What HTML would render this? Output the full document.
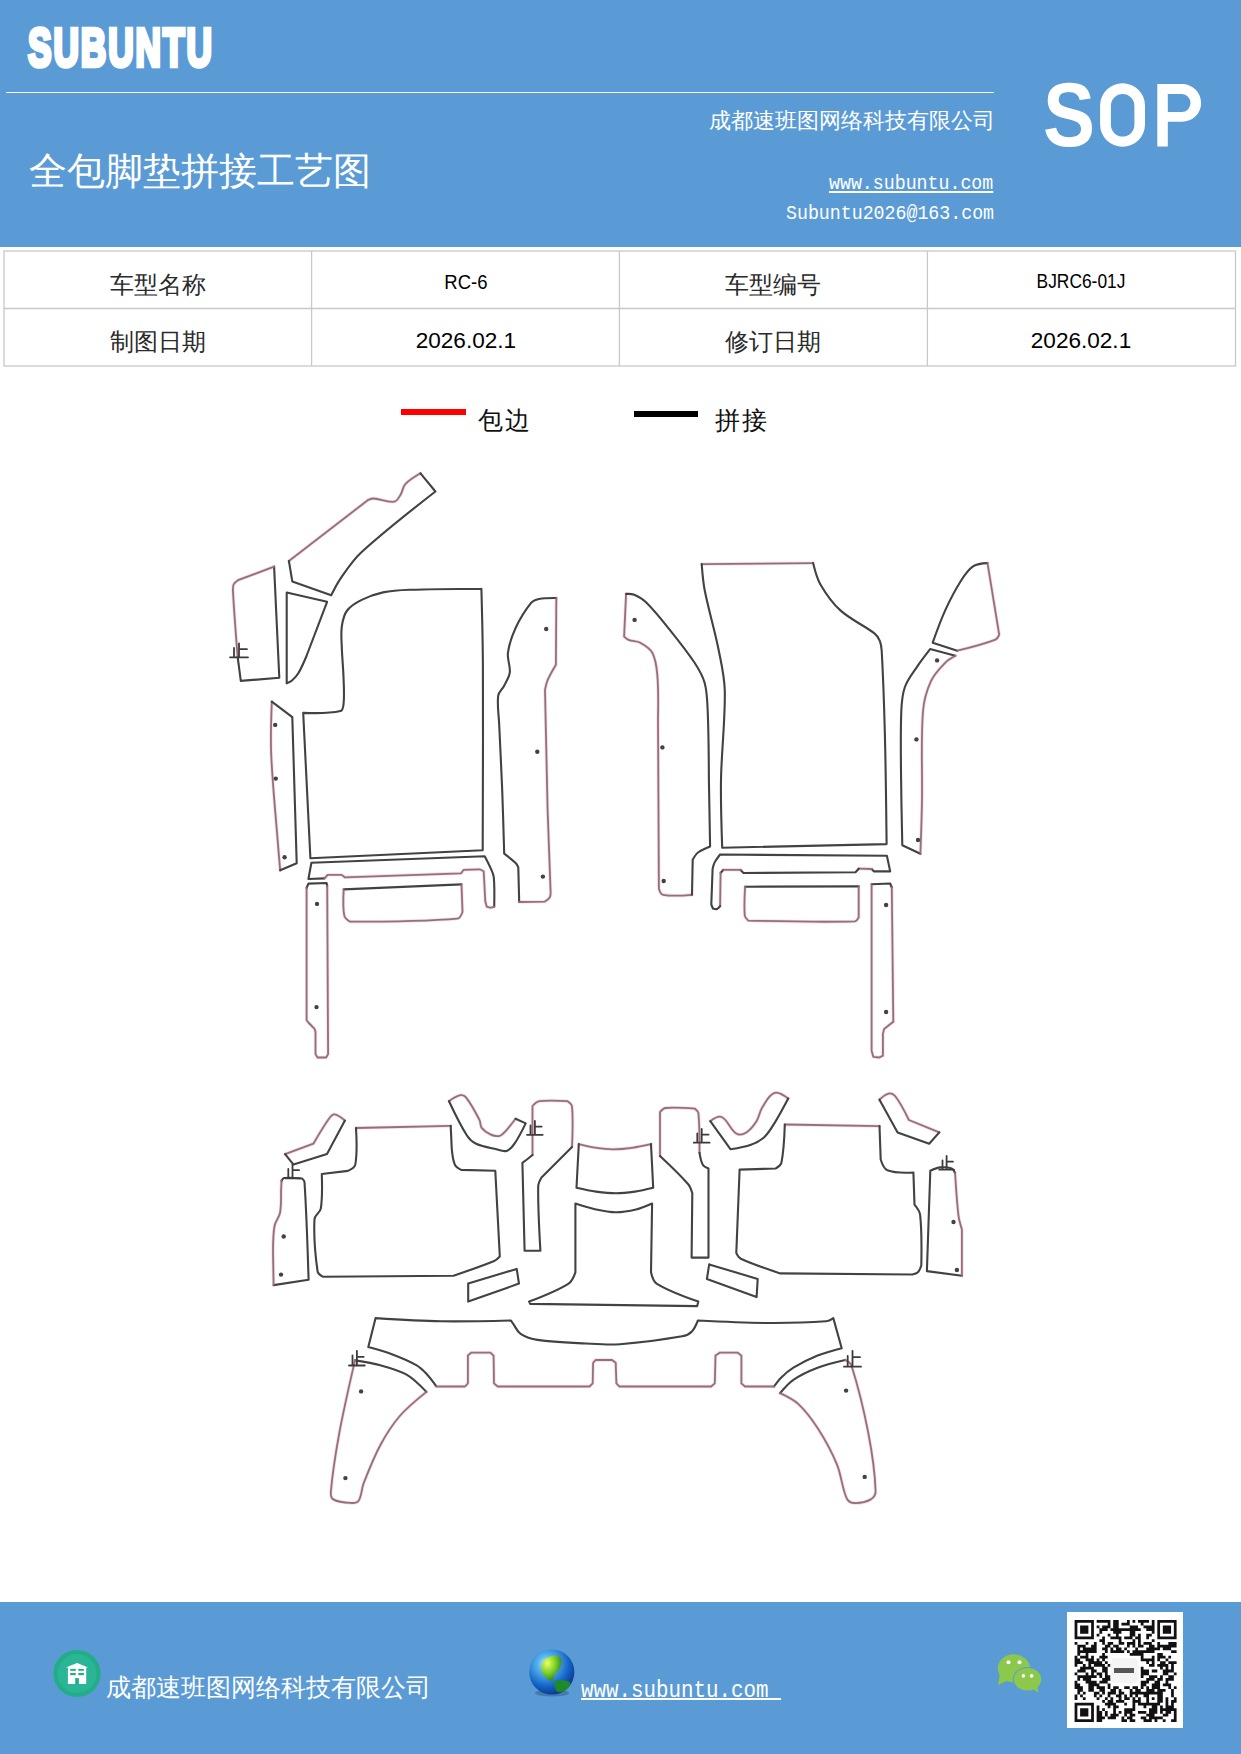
<!DOCTYPE html>
<html><head><meta charset="utf-8">
<style>
html,body{margin:0;padding:0;}
body{width:1241px;height:1754px;position:relative;overflow:hidden;background:#fff;font-family:"Liberation Serif",serif;}
.abs{position:absolute;white-space:nowrap;line-height:1;}
#hdr{position:absolute;left:0;top:0;width:1241px;height:247px;background:#5b9bd5;}
#ftr{position:absolute;left:0;top:1602px;width:1241px;height:152px;background:#5b9bd5;}
.w{color:#fff;}
.mono{font-family:"Liberation Mono",monospace;}
.sans{font-family:"Liberation Sans",sans-serif;}
</style></head><body>
<div id="hdr"></div>
<div class="abs sans w" id="logo" style="left:27.5px;top:19.5px;font-size:54px;font-weight:bold;-webkit-text-stroke:4.5px #fff;letter-spacing:3px;transform-origin:0 0;transform:scaleX(0.652);">SUBUNTU</div>
<div style="position:absolute;left:6px;top:91.7px;width:988px;height:1.7px;background:#fff;"></div>
<div class="abs w" id="title" style="left:29px;top:152px;font-size:38px;">全包脚垫拼接工艺图</div>
<div class="abs w" id="comp" style="left:709px;top:110.5px;font-size:21.6px;">成都速班图网络科技有限公司</div>
<div class="abs w mono" id="url" style="left:829px;top:173px;font-size:21px;text-decoration:underline;text-underline-offset:1.5px;text-decoration-thickness:1.5px;transform-origin:0 0;transform:scaleX(0.869);">www.subuntu.com</div>
<div class="abs w mono" id="mail" style="left:785.5px;top:202.5px;font-size:21px;transform-origin:0 0;transform:scaleX(0.869);">Subuntu2026@163.com</div>
<div class="abs w sans" id="sopS" style="left:1043.2px;top:69.2px;font-size:91px;font-weight:bold;transform-origin:0 0;transform:scaleX(0.857);">S</div>
<svg style="position:absolute;left:0;top:0" width="1241" height="200"><g fill="#fff" fill-rule="evenodd">
<path d="M1100.1 105.6 A22.45 22.3 0 0 1 1145 105.6 V124.5 A22.45 22.3 0 0 1 1100.1 124.5 Z M1110.9 105.8 A11.75 11.8 0 0 1 1134.4 105.8 V124.8 A11.75 11.8 0 0 1 1110.9 124.8 Z"/>
<path d="M1157.3 84 H1182 A19.1 18.9 0 0 1 1182 121.8 H1167.8 V146.5 H1157.3 Z M1167.8 94 H1182 A8.5 9.05 0 0 1 1182 112.1 H1167.8 Z"/>
</g></svg>

<!-- table -->
<svg style="position:absolute;left:0;top:0" width="1241" height="400">
<g stroke="#c8c8c8" stroke-width="1.3" fill="none">
<rect x="4" y="251" width="1231.5" height="115"/>
<line x1="4" y1="308.5" x2="1235.5" y2="308.5"/>
<line x1="311.6" y1="251" x2="311.6" y2="366"/>
<line x1="619.4" y1="251" x2="619.4" y2="366"/>
<line x1="927.4" y1="251" x2="927.4" y2="366"/>
</g>
</svg>
<div class="abs" id="t1" style="left:4px;width:307.6px;text-align:center;top:273px;font-size:24px;color:#2a2a2a;">车型名称</div>
<div class="abs sans" id="t2" style="left:311.6px;width:307.8px;text-align:center;top:271.5px;font-size:20.8px;color:#000;transform:scaleX(0.89);">RC-6</div>
<div class="abs" id="t3" style="left:619.4px;width:308px;text-align:center;top:273px;font-size:24px;color:#2a2a2a;">车型编号</div>
<div class="abs sans" id="t4" style="left:927.4px;width:308px;text-align:center;top:271px;font-size:20.8px;color:#000;transform:scaleX(0.835);">BJRC6-01J</div>
<div class="abs" id="t5" style="left:4px;width:307.6px;text-align:center;top:330px;font-size:24px;color:#2a2a2a;">制图日期</div>
<div class="abs sans" id="t6" style="left:311.6px;width:307.8px;text-align:center;top:329.3px;font-size:22.8px;color:#000;transform:scaleX(0.99);">2026.02.1</div>
<div class="abs" id="t7" style="left:619.4px;width:308px;text-align:center;top:330px;font-size:24px;color:#2a2a2a;">修订日期</div>
<div class="abs sans" id="t8" style="left:927.4px;width:308px;text-align:center;top:329.3px;font-size:22.8px;color:#000;transform:scaleX(0.99);">2026.02.1</div>
<!-- legend -->
<div style="position:absolute;left:401.3px;top:409.4px;width:64.4px;height:6px;background:#ff0000;"></div>
<div class="abs" style="left:478px;top:408px;font-size:25px;letter-spacing:1.5px;color:#111;">包边</div>
<div style="position:absolute;left:634px;top:411px;width:64px;height:6px;background:#000;"></div>
<div class="abs" style="left:715px;top:408px;font-size:25px;letter-spacing:1.5px;color:#111;">拼接</div>

<!-- drawing -->
<svg id="draw" style="position:absolute;left:0;top:0" width="1241" height="1600">
<g fill="none" stroke="#f7dce3" stroke-width="3.4" stroke-linejoin="round" stroke-linecap="round">
<path d="M288.9 561.0 L368.3 499.8 C368.3 499.8 371.9 498.4 373.8 498.5 C380.7 499.0 387.4 502.7 394.2 501.7 C397.4 501.2 399.0 497.2 400.7 494.5 C402.7 491.3 402.7 486.9 405.3 484.1 C409.5 479.6 420.5 473.3 420.5 473.3"/>
<path d="M274.1 566.6 L238.0 580.2 C238.0 580.2 234.4 582.6 233.6 584.5 C232.6 586.8 232.9 589.5 233.0 592.0 C234.2 613.5 237.6 656.5 237.6 656.5"/>
<path d="M519.2 902.0 L544.9 901.6 C544.9 901.6 548.7 899.1 549.8 897.2 C550.7 895.8 550.6 892.3 550.6 892.3 L547.6 810.0 L545.0 689.9 C545.0 689.9 546.3 683.3 547.6 680.2 C549.9 674.9 555.9 664.8 555.9 664.8 L556.3 598.0"/>
<path d="M271.8 701.7 C271.8 701.7 270.4 736.9 271.2 754.5 C272.6 785.4 275.8 816.2 278.2 847.1 C278.8 854.8 280.2 870.3 280.2 870.3"/>
<path d="M494.2 906.6 C494.2 906.6 491.9 907.6 490.7 907.6 C489.3 907.6 486.7 906.6 486.7 906.6 L485.3 901.5 L483.7 871.3 L479.7 869.3 L463.5 869.9 L461.1 873.3 L344.7 877.3 L341.7 874.9 L327.6 874.9 L324.5 878.4"/>
<path d="M461.5 884.4 L462.5 912.0 C462.5 912.0 460.2 918.4 457.5 918.6 C421.8 921.7 350.0 921.7 350.0 921.7 C350.0 921.7 344.8 918.3 344.3 915.6 C342.6 907.0 343.7 889.4 343.7 889.4"/>
<path d="M327.2 886.0 L328.1 1054.1 L326.2 1057.5 L317.5 1057.5 L315.5 1054.1 L315.5 1031.8 L314.6 1028.9 L308.8 1023.0 L306.6 1020.2 L306.6 888.0"/>
<path d="M626.1 593.9 L624.1 636.6 C624.1 636.6 627.2 639.5 629.1 640.2 C632.6 641.5 636.9 640.9 640.2 642.7 C644.8 645.2 649.8 648.1 652.3 652.7 C655.9 659.4 656.7 667.3 657.3 674.9 C658.6 689.9 658.0 720.0 658.0 720.0 L658.9 888.8 C658.9 888.8 660.6 894.4 663.0 894.8 C672.5 896.5 692.0 894.8 692.0 894.8"/>
<path d="M701.7 564.1 L813.1 563.1"/>
<path d="M987.5 563.1 L999.2 634.6 C999.2 634.6 997.4 638.9 995.5 639.6 C983.1 644.4 957.3 650.7 957.3 650.7"/>
<path d="M955.3 655.8 C955.3 655.8 948.0 659.9 945.2 662.8 C939.9 668.3 934.3 673.9 931.1 680.9 C926.7 690.4 923.8 700.8 923.0 711.2 C920.7 740.7 922.5 770.4 922.0 800.0 C921.7 817.9 920.4 853.7 920.4 853.7"/>
<path d="M720.6 873.0 L720.1 906.1"/>
<path d="M871.6 869.0 L858.7 868.7"/>
<path d="M740.3 869.8 L723.4 869.8"/>
<path d="M858.7 886.4 L858.7 917.4 C858.7 917.4 856.6 921.3 854.7 921.4 C819.2 922.4 748.3 920.6 748.3 920.6 C748.3 920.6 745.0 917.7 744.8 915.7 C743.9 906.1 745.1 886.7 745.1 886.7"/>
<path d="M891.8 887.5 L893.3 1021.7"/>
<path d="M893.3 1021.7 L884.1 1029.0 L882.9 1033.8 L882.9 1055.6 L879.3 1057.5 L873.3 1056.8 L871.6 1050.7 L871.6 884.3"/>
<path d="M285.1 1154.1 L313.4 1143.7 C313.4 1143.7 323.3 1126.6 329.1 1118.5 C330.4 1116.7 332.2 1114.0 334.4 1114.3 C338.4 1114.8 344.9 1120.6 344.9 1120.6"/>
<path d="M273.6 1285.1 L273.0 1252.6 C273.0 1252.6 273.0 1234.7 274.5 1226.0 C275.3 1221.4 279.1 1217.6 280.0 1213.0 C281.3 1206.1 281.0 1192.0 281.0 1192.0 L281.5 1181.0"/>
<path d="M356.0 1128.0 L450.7 1125.9"/>
<path d="M449.0 1101.2 C449.0 1101.2 456.1 1096.1 460.3 1095.2 C462.3 1094.8 464.8 1095.8 466.0 1097.4 C471.4 1104.3 475.5 1112.2 479.5 1120.0 C480.8 1122.4 480.0 1125.7 481.7 1127.9 C484.0 1130.9 487.3 1133.1 490.8 1134.6 C493.6 1135.8 496.8 1136.5 499.8 1135.8 C502.1 1135.3 503.8 1133.1 505.4 1131.3 C509.1 1127.4 515.6 1118.8 515.6 1118.8"/>
<path d="M532.5 1155.0 L532.5 1106.0 C532.5 1106.0 536.6 1101.6 539.3 1101.2 C548.6 1099.9 567.5 1101.2 567.5 1101.2 C567.5 1101.2 571.8 1104.1 572.0 1106.4 C573.3 1119.9 572.0 1147.0 572.0 1147.0"/>
<path d="M578.8 1144.1 C578.8 1144.1 589.5 1146.8 595.0 1147.6 C601.0 1148.5 607.0 1149.3 613.0 1149.3 C619.4 1149.3 625.7 1148.7 632.0 1147.8 C638.4 1146.9 651.0 1144.1 651.0 1144.1"/>
<path d="M660.0 1156.1 L660.0 1112.1 C660.0 1112.1 663.3 1108.2 665.6 1108.0 C675.4 1107.1 695.0 1108.7 695.0 1108.7 C695.0 1108.7 698.2 1111.3 698.4 1113.2 C699.7 1126.3 699.5 1152.7 699.5 1152.7"/>
<path d="M710.3 1121.1 C710.3 1121.1 718.0 1115.3 721.6 1117.0 C728.2 1120.2 730.0 1129.6 736.3 1133.5 C739.2 1135.3 743.5 1134.2 746.4 1132.4 C750.7 1129.8 753.9 1125.4 756.6 1121.1 C759.2 1117.0 759.6 1111.7 762.2 1107.6 C765.6 1102.2 768.5 1095.0 774.6 1092.9 C779.2 1091.3 788.2 1098.5 788.2 1098.5"/>
<path d="M784.8 1124.5 L879.5 1126.1"/>
<path d="M879.5 1099.7 C879.5 1099.7 885.0 1094.4 888.6 1093.6 C891.0 1093.1 893.8 1094.4 895.3 1096.3 C900.9 1103.5 908.9 1120.0 908.9 1120.0 L939.3 1132.4"/>
<path d="M961.9 1275.7 L961.9 1229.4 C961.9 1229.4 959.1 1220.5 958.5 1215.9 C956.8 1201.7 955.1 1173.0 955.1 1173.0"/>
<path d="M774.0 1386.5 L745.0 1386.5 L741.4 1383.4 L741.4 1355.6 L737.8 1352.7 L719.7 1352.7 L715.5 1355.6 L714.8 1383.4 L711.2 1386.5 L619.3 1386.5 L616.4 1383.4 L615.7 1362.8 L612.1 1360.0 L595.6 1360.0 L593.1 1362.8 L592.7 1383.4 L589.5 1386.5 L497.7 1386.5 L494.0 1383.4 L493.6 1355.6 L490.4 1352.7 L471.1 1352.7 L467.9 1355.4 L467.9 1383.4 L465.0 1386.5 L436.0 1386.5"/>
<path d="M426.4 1391.9 C426.4 1391.9 407.6 1407.0 399.8 1416.0 C392.2 1424.8 385.9 1434.8 380.4 1445.0 C373.7 1457.4 368.6 1470.6 363.5 1483.7 C361.4 1489.2 361.8 1495.6 358.7 1500.6 C357.3 1502.8 354.0 1503.1 351.4 1503.0 C345.3 1502.7 338.6 1502.5 333.3 1499.4 C330.8 1497.9 330.6 1493.9 330.9 1491.0 C332.7 1471.5 335.8 1452.2 339.3 1433.0 C343.8 1408.7 355.0 1360.4 355.0 1360.4"/>
<path d="M780.1 1393.1 C780.1 1393.1 793.1 1399.1 798.2 1403.9 C805.8 1411.0 812.0 1419.4 817.6 1428.1 C825.0 1439.6 831.7 1451.7 836.9 1464.4 C841.4 1475.2 841.9 1487.5 846.6 1498.2 C847.8 1500.8 850.9 1502.9 853.8 1503.0 C859.6 1503.3 865.7 1502.2 870.7 1499.4 C873.5 1497.8 875.7 1494.2 875.6 1491.0 C874.9 1471.5 872.0 1452.1 868.3 1433.0 C863.9 1410.2 858.4 1387.5 851.4 1365.3 C850.6 1362.7 845.3 1360.0 845.3 1360.0"/>
</g>
<g fill="none" stroke-linejoin="round" stroke-linecap="round">
<path d="M288.9 561.0 L368.3 499.8 C368.3 499.8 371.9 498.4 373.8 498.5 C380.7 499.0 387.4 502.7 394.2 501.7 C397.4 501.2 399.0 497.2 400.7 494.5 C402.7 491.3 402.7 486.9 405.3 484.1 C409.5 479.6 420.5 473.3 420.5 473.3" stroke="#92707c" stroke-width="1.8"/>
<path d="M420.5 473.3 L435.4 491.5 C435.4 491.5 384.6 531.0 360.9 552.7 C352.8 560.1 346.8 569.6 340.5 578.6 C336.9 583.8 331.2 595.3 331.2 595.3 L292.3 581.4 L288.9 561.0" stroke="#424242" stroke-width="2.1"/>
<path d="M237.6 656.5 L240.8 680.9 L279.3 677.8 L274.1 566.6" stroke="#424242" stroke-width="2.1"/>
<path d="M274.1 566.6 L238.0 580.2 C238.0 580.2 234.4 582.6 233.6 584.5 C232.6 586.8 232.9 589.5 233.0 592.0 C234.2 613.5 237.6 656.5 237.6 656.5" stroke="#92707c" stroke-width="1.8"/>
<path d="M230.0 657.3 L248.0 657.3 M239.0 643.5 L239.0 657.3 M239.0 649.1 L247.0 649.1 M234.0 647.9 L234.0 657.3" stroke="#3e3a3c" stroke-width="1.8"/>
<path d="M286.7 592.5 L327.1 601.8 L306.5 656.0 C306.5 656.0 301.7 667.6 298.5 673.0 C296.8 675.8 294.5 678.3 292.0 680.5 C290.5 681.8 286.7 683.3 286.7 683.3 L286.7 592.5" stroke="#424242" stroke-width="2.1"/>
<path d="M481.4 588.7 C481.4 588.7 433.5 588.9 409.6 589.8 C400.7 590.1 391.7 590.6 383.0 592.4 C375.6 594.0 368.4 596.5 361.7 599.9 C356.3 602.6 350.7 605.7 347.1 610.5 C343.7 615.0 342.6 620.9 341.8 626.5 C340.8 633.5 341.6 640.7 341.8 647.8 C342.2 658.4 343.3 669.1 343.6 679.7 C343.9 687.7 344.4 695.7 343.6 703.6 C343.3 706.3 343.0 710.5 340.4 711.1 C328.3 713.9 303.2 712.9 303.2 712.9 L310.4 858.2 L482.7 850.2 C482.7 850.2 483.2 727.7 482.9 666.4 C482.8 640.5 481.4 588.7 481.4 588.7" stroke="#424242" stroke-width="2.1"/>
<path d="M556.3 598.0 C556.3 598.0 544.6 597.9 538.9 599.0 C536.0 599.6 532.9 600.6 531.1 602.9 C524.9 610.6 519.7 619.1 515.6 628.0 C511.9 636.0 509.0 644.5 507.9 653.2 C507.1 659.6 510.6 666.1 509.8 672.5 C509.2 677.4 506.2 681.6 504.0 686.0 C502.3 689.4 498.7 692.0 498.2 695.7 C497.0 705.3 498.8 715.0 499.2 724.7 C500.1 746.5 501.4 768.2 502.2 790.0 C503.0 811.2 504.2 853.7 504.2 853.7 C504.2 853.7 512.3 859.8 515.9 863.3 C517.0 864.4 518.3 867.4 518.3 867.4 L519.2 902.0" stroke="#424242" stroke-width="2.1"/>
<path d="M519.2 902.0 L544.9 901.6 C544.9 901.6 548.7 899.1 549.8 897.2 C550.7 895.8 550.6 892.3 550.6 892.3 L547.6 810.0 L545.0 689.9 C545.0 689.9 546.3 683.3 547.6 680.2 C549.9 674.9 555.9 664.8 555.9 664.8 L556.3 598.0" stroke="#92707c" stroke-width="1.8"/>
<circle cx="546.2" cy="629.0" r="2.2" fill="#424242" stroke="none"/>
<circle cx="537.3" cy="751.8" r="2.2" fill="#424242" stroke="none"/>
<circle cx="542.9" cy="876.6" r="2.2" fill="#424242" stroke="none"/>
<path d="M271.8 701.7 C271.8 701.7 270.4 736.9 271.2 754.5 C272.6 785.4 275.8 816.2 278.2 847.1 C278.8 854.8 280.2 870.3 280.2 870.3" stroke="#92707c" stroke-width="1.8"/>
<path d="M280.2 870.3 L296.7 863.2 L292.3 717.2 L271.8 701.7" stroke="#424242" stroke-width="2.1"/>
<circle cx="275.2" cy="724.9" r="2.2" fill="#424242" stroke="none"/>
<circle cx="275.8" cy="778.6" r="2.2" fill="#424242" stroke="none"/>
<circle cx="284.6" cy="857.2" r="2.2" fill="#424242" stroke="none"/>
<path d="M324.5 878.4 L308.4 879.0 L311.4 862.8 L484.7 856.2 C484.7 856.2 488.9 864.2 490.7 868.3 C492.0 871.2 493.5 874.1 493.8 877.3 C494.7 887.0 494.2 906.6 494.2 906.6" stroke="#424242" stroke-width="2.1"/>
<path d="M494.2 906.6 C494.2 906.6 491.9 907.6 490.7 907.6 C489.3 907.6 486.7 906.6 486.7 906.6 L485.3 901.5 L483.7 871.3 L479.7 869.3 L463.5 869.9 L461.1 873.3 L344.7 877.3 L341.7 874.9 L327.6 874.9 L324.5 878.4" stroke="#92707c" stroke-width="1.8"/>
<path d="M343.7 889.4 L461.5 884.4" stroke="#424242" stroke-width="2.1"/>
<path d="M461.5 884.4 L462.5 912.0 C462.5 912.0 460.2 918.4 457.5 918.6 C421.8 921.7 350.0 921.7 350.0 921.7 C350.0 921.7 344.8 918.3 344.3 915.6 C342.6 907.0 343.7 889.4 343.7 889.4" stroke="#92707c" stroke-width="1.8"/>
<path d="M306.6 888.0 L308.4 883.6 L326.6 883.0 L327.2 886.0" stroke="#424242" stroke-width="2.1"/>
<path d="M327.2 886.0 L328.1 1054.1 L326.2 1057.5 L317.5 1057.5 L315.5 1054.1 L315.5 1031.8 L314.6 1028.9 L308.8 1023.0 L306.6 1020.2 L306.6 888.0" stroke="#92707c" stroke-width="1.8"/>
<circle cx="317.0" cy="903.9" r="2.2" fill="#424242" stroke="none"/>
<circle cx="316.5" cy="1007.1" r="2.2" fill="#424242" stroke="none"/>
<path d="M626.1 593.9 L624.1 636.6 C624.1 636.6 627.2 639.5 629.1 640.2 C632.6 641.5 636.9 640.9 640.2 642.7 C644.8 645.2 649.8 648.1 652.3 652.7 C655.9 659.4 656.7 667.3 657.3 674.9 C658.6 689.9 658.0 720.0 658.0 720.0 L658.9 888.8 C658.9 888.8 660.6 894.4 663.0 894.8 C672.5 896.5 692.0 894.8 692.0 894.8" stroke="#92707c" stroke-width="1.8"/>
<path d="M692.0 894.8 L692.7 859.8 C692.7 859.8 695.6 854.3 698.0 852.5 C701.6 849.8 710.1 846.5 710.1 846.5 L708.9 780.0 C708.9 780.0 708.7 734.1 707.7 711.2 C707.3 701.8 707.2 692.1 704.7 683.0 C702.7 675.7 698.7 669.1 694.6 662.8 C687.2 651.6 678.8 641.1 670.4 630.6 C662.7 620.9 655.1 611.1 646.3 602.4 C642.9 599.0 638.6 596.6 634.2 594.7 C631.7 593.6 626.1 593.9 626.1 593.9" stroke="#424242" stroke-width="2.1"/>
<circle cx="634.6" cy="619.9" r="2.2" fill="#424242" stroke="none"/>
<circle cx="662.4" cy="747.4" r="2.2" fill="#424242" stroke="none"/>
<circle cx="663.7" cy="881.0" r="2.2" fill="#424242" stroke="none"/>
<path d="M701.7 564.1 L813.1 563.1" stroke="#92707c" stroke-width="1.8"/>
<path d="M813.1 563.1 C813.1 563.1 816.6 577.8 820.3 584.2 C825.8 593.7 832.3 603.0 840.4 610.4 C850.6 619.7 863.8 625.2 874.7 633.6 C877.0 635.4 878.6 638.0 879.7 640.7 C881.0 643.8 881.5 647.3 881.7 650.7 C883.2 677.5 884.1 704.4 884.8 731.3 C885.8 768.9 886.6 844.1 886.6 844.1 L722.2 847.7 C722.2 847.7 720.6 802.6 721.0 780.0 C721.5 750.3 725.3 720.7 724.8 691.0 C724.6 677.4 721.5 664.0 718.8 650.7 C714.8 630.4 708.7 610.6 704.7 590.3 C703.0 581.7 701.7 564.1 701.7 564.1" stroke="#424242" stroke-width="2.1"/>
<path d="M957.3 650.7 L932.7 642.7 C932.7 642.7 940.4 620.9 945.2 610.4 C949.9 600.0 955.2 589.8 961.3 580.2 C964.6 575.0 968.2 569.5 973.4 566.1 C977.4 563.5 987.5 563.1 987.5 563.1" stroke="#424242" stroke-width="2.1"/>
<path d="M987.5 563.1 L999.2 634.6 C999.2 634.6 997.4 638.9 995.5 639.6 C983.1 644.4 957.3 650.7 957.3 650.7" stroke="#92707c" stroke-width="1.8"/>
<path d="M920.4 853.7 L902.3 845.3 C902.3 845.3 901.3 801.8 901.1 780.0 C900.9 757.1 900.4 734.1 901.3 711.2 C901.6 703.1 902.2 694.7 904.9 687.0 C907.5 679.6 912.7 673.3 917.0 666.8 C921.1 660.7 930.1 649.1 930.1 649.1 L955.3 655.8" stroke="#424242" stroke-width="2.1"/>
<path d="M955.3 655.8 C955.3 655.8 948.0 659.9 945.2 662.8 C939.9 668.3 934.3 673.9 931.1 680.9 C926.7 690.4 923.8 700.8 923.0 711.2 C920.7 740.7 922.5 770.4 922.0 800.0 C921.7 817.9 920.4 853.7 920.4 853.7" stroke="#92707c" stroke-width="1.8"/>
<circle cx="937.1" cy="660.4" r="2.2" fill="#424242" stroke="none"/>
<circle cx="916.4" cy="739.4" r="2.2" fill="#424242" stroke="none"/>
<circle cx="918.0" cy="840.0" r="2.2" fill="#424242" stroke="none"/>
<path d="M723.4 869.8 L720.6 873.0" stroke="#424242" stroke-width="2.1"/>
<path d="M720.6 873.0 L720.1 906.1" stroke="#92707c" stroke-width="1.8"/>
<path d="M720.1 906.1 C720.1 906.1 718.3 908.5 716.9 909.0 C715.6 909.4 712.9 908.5 712.9 908.5 L711.3 904.5 L712.6 869.0 C712.6 869.0 713.5 864.6 714.5 862.6 C716.0 859.7 720.1 854.5 720.1 854.5 L886.9 855.8 L890.2 871.4 L874.0 871.4 L871.6 869.0" stroke="#424242" stroke-width="2.1"/>
<path d="M871.6 869.0 L858.7 868.7" stroke="#92707c" stroke-width="1.8"/>
<path d="M858.7 868.7 L855.5 872.2 L743.5 873.0 L740.3 869.8" stroke="#424242" stroke-width="2.1"/>
<path d="M740.3 869.8 L723.4 869.8" stroke="#92707c" stroke-width="1.8"/>
<path d="M745.1 886.7 L858.7 886.4" stroke="#424242" stroke-width="2.1"/>
<path d="M858.7 886.4 L858.7 917.4 C858.7 917.4 856.6 921.3 854.7 921.4 C819.2 922.4 748.3 920.6 748.3 920.6 C748.3 920.6 745.0 917.7 744.8 915.7 C743.9 906.1 745.1 886.7 745.1 886.7" stroke="#92707c" stroke-width="1.8"/>
<path d="M871.6 884.3 L890.2 883.5 L891.8 887.5" stroke="#424242" stroke-width="2.1"/>
<path d="M891.8 887.5 L893.3 1021.7" stroke="#92707c" stroke-width="1.8"/>
<path d="M893.3 1021.7 L884.1 1029.0 L882.9 1033.8 L882.9 1055.6 L879.3 1057.5 L873.3 1056.8 L871.6 1050.7 L871.6 884.3" stroke="#92707c" stroke-width="1.8"/>
<circle cx="886.1" cy="905.0" r="2.2" fill="#424242" stroke="none"/>
<circle cx="886.1" cy="1012.0" r="2.2" fill="#424242" stroke="none"/>
<path d="M285.1 1154.1 L313.4 1143.7 C313.4 1143.7 323.3 1126.6 329.1 1118.5 C330.4 1116.7 332.2 1114.0 334.4 1114.3 C338.4 1114.8 344.9 1120.6 344.9 1120.6" stroke="#92707c" stroke-width="1.8"/>
<path d="M344.9 1120.6 L327.0 1154.1 L293.5 1164.6 L285.1 1154.1" stroke="#424242" stroke-width="2.1"/>
<path d="M281.5 1181.0 C281.5 1181.0 282.7 1178.2 284.0 1178.0 C290.0 1177.3 302.0 1178.5 302.0 1178.5 C302.0 1178.5 304.4 1180.6 304.5 1182.0 C306.6 1214.6 308.6 1279.8 308.6 1279.8 L273.6 1285.1" stroke="#424242" stroke-width="2.1"/>
<path d="M273.6 1285.1 L273.0 1252.6 C273.0 1252.6 273.0 1234.7 274.5 1226.0 C275.3 1221.4 279.1 1217.6 280.0 1213.0 C281.3 1206.1 281.0 1192.0 281.0 1192.0 L281.5 1181.0" stroke="#92707c" stroke-width="1.8"/>
<circle cx="283.7" cy="1236.5" r="2.2" fill="#424242" stroke="none"/>
<circle cx="281.0" cy="1274.6" r="2.2" fill="#424242" stroke="none"/>
<path d="M285.0 1178.3 L300.0 1178.3 M292.5 1164.6 L292.5 1178.3 M292.5 1170.2 L299.0 1170.2 M288.3 1169.0 L288.3 1178.3" stroke="#3e3a3c" stroke-width="1.8"/>
<path d="M356.0 1128.0 L450.7 1125.9" stroke="#92707c" stroke-width="1.8"/>
<path d="M450.7 1125.9 L451.7 1147.9 C451.7 1147.9 452.6 1159.4 454.8 1164.6 C455.9 1167.1 461.1 1169.9 461.1 1169.9 L495.3 1170.7 L499.8 1256.5 C499.8 1256.5 496.4 1260.1 494.2 1261.0 C480.9 1266.5 453.5 1275.7 453.5 1275.7 L322.9 1276.7 C322.9 1276.7 318.0 1273.9 317.6 1271.5 C315.1 1254.2 313.6 1236.6 314.5 1219.1 C314.7 1215.0 320.1 1212.6 320.8 1208.6 C322.6 1197.2 321.8 1174.0 321.8 1174.0 L348.0 1170.9 C348.0 1170.9 354.7 1167.8 355.3 1164.6 C357.5 1152.6 356.0 1128.0 356.0 1128.0" stroke="#424242" stroke-width="2.1"/>
<path d="M468.2 1283.6 L516.7 1268.9 L519.0 1283.6 L468.2 1301.6 L468.2 1283.6" stroke="#424242" stroke-width="2.1"/>
<path d="M449.0 1101.2 C449.0 1101.2 456.1 1096.1 460.3 1095.2 C462.3 1094.8 464.8 1095.8 466.0 1097.4 C471.4 1104.3 475.5 1112.2 479.5 1120.0 C480.8 1122.4 480.0 1125.7 481.7 1127.9 C484.0 1130.9 487.3 1133.1 490.8 1134.6 C493.6 1135.8 496.8 1136.5 499.8 1135.8 C502.1 1135.3 503.8 1133.1 505.4 1131.3 C509.1 1127.4 515.6 1118.8 515.6 1118.8" stroke="#92707c" stroke-width="1.8"/>
<path d="M515.6 1118.8 L525.7 1123.4 C525.7 1123.4 518.9 1137.4 514.5 1143.7 C512.5 1146.6 510.0 1149.8 506.6 1150.9 C503.3 1151.9 499.7 1150.1 496.4 1149.3 C489.6 1147.7 482.5 1146.6 476.1 1143.7 C472.5 1142.0 469.2 1139.2 467.1 1135.8 C460.1 1124.8 449.0 1101.2 449.0 1101.2" stroke="#424242" stroke-width="2.1"/>
<path d="M532.5 1155.0 L532.5 1106.0 C532.5 1106.0 536.6 1101.6 539.3 1101.2 C548.6 1099.9 567.5 1101.2 567.5 1101.2 C567.5 1101.2 571.8 1104.1 572.0 1106.4 C573.3 1119.9 572.0 1147.0 572.0 1147.0" stroke="#92707c" stroke-width="1.8"/>
<path d="M572.0 1147.0 L541.5 1177.5 C541.5 1177.5 538.2 1183.3 538.2 1186.5 C537.9 1207.9 540.4 1250.8 540.4 1250.8 L524.6 1250.8 L522.4 1162.8 L526.9 1159.5 L532.5 1155.0" stroke="#424242" stroke-width="2.1"/>
<path d="M527.0 1134.8 L542.7 1134.8 M534.9 1121.0 L534.9 1134.8 M534.9 1126.6 L541.7 1126.6 M530.5 1125.4 L530.5 1134.8" stroke="#3e3a3c" stroke-width="1.8"/>
<path d="M578.8 1144.1 C578.8 1144.1 589.5 1146.8 595.0 1147.6 C601.0 1148.5 607.0 1149.3 613.0 1149.3 C619.4 1149.3 625.7 1148.7 632.0 1147.8 C638.4 1146.9 651.0 1144.1 651.0 1144.1" stroke="#92707c" stroke-width="1.8"/>
<path d="M651.0 1144.1 L653.2 1187.7 C653.2 1187.7 641.1 1190.7 635.0 1191.6 C628.7 1192.5 622.4 1193.3 616.0 1193.3 C609.3 1193.3 602.6 1192.5 596.0 1191.6 C589.4 1190.7 576.5 1187.7 576.5 1187.7 L578.8 1144.1" stroke="#424242" stroke-width="2.1"/>
<path d="M575.4 1203.5 C575.4 1203.5 588.4 1207.8 595.0 1209.2 C601.9 1210.7 608.9 1212.2 616.0 1212.3 C622.7 1212.3 629.5 1211.1 636.0 1209.5 C641.6 1208.1 652.1 1203.5 652.1 1203.5 L651.0 1272.3 C651.0 1272.3 653.0 1281.4 656.6 1283.6 C669.5 1291.6 698.3 1301.6 698.3 1301.6 L697.2 1306.1 L530.3 1303.9 L529.1 1301.6 C529.1 1301.6 556.4 1291.3 568.6 1283.6 C572.3 1281.2 575.4 1272.3 575.4 1272.3 L575.4 1203.5" stroke="#424242" stroke-width="2.1"/>
<path d="M660.0 1156.1 L660.0 1112.1 C660.0 1112.1 663.3 1108.2 665.6 1108.0 C675.4 1107.1 695.0 1108.7 695.0 1108.7 C695.0 1108.7 698.2 1111.3 698.4 1113.2 C699.7 1126.3 699.5 1152.7 699.5 1152.7" stroke="#92707c" stroke-width="1.8"/>
<path d="M699.5 1152.7 C699.5 1152.7 700.8 1161.4 702.9 1165.1 C704.0 1167.0 708.5 1168.5 708.5 1168.5 L708.5 1257.6 L691.6 1257.6 L692.3 1193.3 C692.3 1193.3 690.4 1186.8 688.2 1184.3 C679.5 1174.3 660.0 1156.1 660.0 1156.1" stroke="#424242" stroke-width="2.1"/>
<path d="M693.8 1142.7 L709.6 1142.7 M701.7 1129.0 L701.7 1142.7 M701.7 1134.6 L708.6 1134.6 M697.3 1133.4 L697.3 1142.7" stroke="#3e3a3c" stroke-width="1.8"/>
<path d="M710.3 1121.1 C710.3 1121.1 718.0 1115.3 721.6 1117.0 C728.2 1120.2 730.0 1129.6 736.3 1133.5 C739.2 1135.3 743.5 1134.2 746.4 1132.4 C750.7 1129.8 753.9 1125.4 756.6 1121.1 C759.2 1117.0 759.6 1111.7 762.2 1107.6 C765.6 1102.2 768.5 1095.0 774.6 1092.9 C779.2 1091.3 788.2 1098.5 788.2 1098.5" stroke="#92707c" stroke-width="1.8"/>
<path d="M788.2 1098.5 C788.2 1098.5 780.2 1113.8 775.7 1121.1 C772.3 1126.6 769.2 1132.4 764.5 1136.9 C760.7 1140.5 755.8 1143.0 750.9 1144.8 C744.4 1147.2 730.6 1149.3 730.6 1149.3 L710.3 1121.1" stroke="#424242" stroke-width="2.1"/>
<path d="M784.8 1124.5 L879.5 1126.1" stroke="#92707c" stroke-width="1.8"/>
<path d="M879.5 1126.1 L880.7 1159.5 C880.7 1159.5 883.5 1168.7 887.4 1170.3 C895.5 1173.5 913.4 1172.5 913.4 1172.5 L914.5 1204.6 C914.5 1204.6 919.7 1210.9 920.1 1214.7 C922.0 1231.5 921.3 1265.5 921.3 1265.5 C921.3 1265.5 919.7 1270.5 917.9 1272.3 C916.5 1273.7 912.2 1274.5 912.2 1274.5 L780.3 1273.4 C780.3 1273.4 753.6 1264.6 740.8 1258.7 C738.6 1257.7 736.3 1253.1 736.3 1253.1 L739.6 1169.6 L775.7 1168.5 C775.7 1168.5 780.9 1165.4 781.4 1162.8 C784.0 1150.2 784.8 1124.5 784.8 1124.5" stroke="#424242" stroke-width="2.1"/>
<path d="M709.2 1264.4 L757.7 1279.0 L756.6 1297.1 L706.9 1279.0 L709.2 1264.4" stroke="#424242" stroke-width="2.1"/>
<path d="M879.5 1099.7 C879.5 1099.7 885.0 1094.4 888.6 1093.6 C891.0 1093.1 893.8 1094.4 895.3 1096.3 C900.9 1103.5 908.9 1120.0 908.9 1120.0 L939.3 1132.4" stroke="#92707c" stroke-width="1.8"/>
<path d="M939.3 1132.4 L929.2 1143.7 L897.6 1132.4 L879.5 1099.7" stroke="#424242" stroke-width="2.1"/>
<path d="M955.1 1173.0 C955.1 1173.0 953.5 1169.2 951.7 1168.5 C948.2 1167.2 944.2 1167.0 940.5 1167.4 C936.9 1167.8 930.3 1170.7 930.3 1170.7 L926.9 1271.1 L961.9 1275.7" stroke="#424242" stroke-width="2.1"/>
<path d="M961.9 1275.7 L961.9 1229.4 C961.9 1229.4 959.1 1220.5 958.5 1215.9 C956.8 1201.7 955.1 1173.0 955.1 1173.0" stroke="#92707c" stroke-width="1.8"/>
<circle cx="953.5" cy="1222.0" r="2.2" fill="#424242" stroke="none"/>
<circle cx="956.9" cy="1270.0" r="2.2" fill="#424242" stroke="none"/>
<path d="M939.3 1169.7 L954.0 1169.7 M946.6 1156.0 L946.6 1169.7 M946.6 1161.6 L953.0 1161.6 M942.5 1160.4 L942.5 1169.7" stroke="#3e3a3c" stroke-width="1.8"/>
<path d="M436.0 1385.8 C436.0 1385.8 429.9 1377.4 426.4 1373.7 C423.5 1370.6 420.4 1367.4 416.7 1365.3 C409.0 1360.9 400.8 1357.5 392.5 1354.4 C384.6 1351.4 368.3 1347.1 368.3 1347.1 L375.6 1318.1 C375.6 1318.1 419.1 1320.9 440.9 1321.3 C464.3 1321.7 511.0 1320.5 511.0 1320.5 C511.0 1320.5 512.5 1323.0 513.4 1324.2 C515.7 1327.4 517.2 1331.6 520.6 1333.8 C525.7 1337.1 531.6 1339.0 537.6 1339.9 C553.6 1342.3 569.8 1342.7 585.9 1343.5 C597.3 1344.1 608.7 1345.0 620.0 1344.2 C640.8 1342.6 661.6 1340.0 682.2 1336.3 C685.8 1335.7 689.3 1334.0 691.9 1331.4 C694.8 1328.5 697.9 1320.5 697.9 1320.5 C697.9 1320.5 745.4 1322.9 769.2 1323.0 C788.1 1323.1 807.1 1322.7 826.0 1321.3 C828.6 1321.1 833.3 1318.1 833.3 1318.1 L841.7 1348.3 C841.7 1348.3 825.4 1352.5 817.6 1355.6 C809.2 1359.0 801.1 1363.1 793.4 1367.7 C789.0 1370.4 785.0 1373.8 781.3 1377.4 C778.5 1380.1 774.0 1386.5 774.0 1386.5" stroke="#424242" stroke-width="2.1"/>
<path d="M774.0 1386.5 L745.0 1386.5 L741.4 1383.4 L741.4 1355.6 L737.8 1352.7 L719.7 1352.7 L715.5 1355.6 L714.8 1383.4 L711.2 1386.5 L619.3 1386.5 L616.4 1383.4 L615.7 1362.8 L612.1 1360.0 L595.6 1360.0 L593.1 1362.8 L592.7 1383.4 L589.5 1386.5 L497.7 1386.5 L494.0 1383.4 L493.6 1355.6 L490.4 1352.7 L471.1 1352.7 L467.9 1355.4 L467.9 1383.4 L465.0 1386.5 L436.0 1386.5" stroke="#92707c" stroke-width="1.8"/>
<path d="M355.0 1360.4 C355.0 1360.4 372.1 1363.0 380.4 1365.3 C389.5 1367.8 398.8 1370.2 407.0 1374.9 C414.4 1379.2 426.4 1391.9 426.4 1391.9" stroke="#424242" stroke-width="2.1"/>
<path d="M426.4 1391.9 C426.4 1391.9 407.6 1407.0 399.8 1416.0 C392.2 1424.8 385.9 1434.8 380.4 1445.0 C373.7 1457.4 368.6 1470.6 363.5 1483.7 C361.4 1489.2 361.8 1495.6 358.7 1500.6 C357.3 1502.8 354.0 1503.1 351.4 1503.0 C345.3 1502.7 338.6 1502.5 333.3 1499.4 C330.8 1497.9 330.6 1493.9 330.9 1491.0 C332.7 1471.5 335.8 1452.2 339.3 1433.0 C343.8 1408.7 355.0 1360.4 355.0 1360.4" stroke="#92707c" stroke-width="1.8"/>
<circle cx="361.1" cy="1391.4" r="2.2" fill="#424242" stroke="none"/>
<circle cx="345.4" cy="1478.1" r="2.2" fill="#424242" stroke="none"/>
<path d="M349.0 1365.5 L364.7 1365.5 M356.9 1350.8 L356.9 1365.5 M356.9 1356.8 L363.7 1356.8 M352.5 1355.5 L352.5 1365.5" stroke="#3e3a3c" stroke-width="1.8"/>
<path d="M845.3 1360.0 C845.3 1360.0 826.6 1364.3 817.6 1367.7 C809.2 1370.9 800.9 1374.7 793.4 1379.8 C788.2 1383.3 780.1 1393.1 780.1 1393.1" stroke="#424242" stroke-width="2.1"/>
<path d="M780.1 1393.1 C780.1 1393.1 793.1 1399.1 798.2 1403.9 C805.8 1411.0 812.0 1419.4 817.6 1428.1 C825.0 1439.6 831.7 1451.7 836.9 1464.4 C841.4 1475.2 841.9 1487.5 846.6 1498.2 C847.8 1500.8 850.9 1502.9 853.8 1503.0 C859.6 1503.3 865.7 1502.2 870.7 1499.4 C873.5 1497.8 875.7 1494.2 875.6 1491.0 C874.9 1471.5 872.0 1452.1 868.3 1433.0 C863.9 1410.2 858.4 1387.5 851.4 1365.3 C850.6 1362.7 845.3 1360.0 845.3 1360.0" stroke="#92707c" stroke-width="1.8"/>
<circle cx="846.1" cy="1390.6" r="2.2" fill="#424242" stroke="none"/>
<circle cx="864.7" cy="1476.9" r="2.2" fill="#424242" stroke="none"/>
<path d="M844.0 1366.7 L861.0 1366.7 M852.5 1350.8 L852.5 1366.7 M852.5 1357.2 L860.0 1357.2 M847.7 1355.9 L847.7 1366.7" stroke="#3e3a3c" stroke-width="1.8"/>
</g>
</svg>

<div id="ftr"></div>
<svg style="position:absolute;left:0;top:0" width="1241" height="1754">
<defs>
<radialGradient id="gl" cx="0.38" cy="0.32" r="0.7">
<stop offset="0" stop-color="#d8f4ff"/><stop offset="0.25" stop-color="#5ab8ee"/><stop offset="0.7" stop-color="#1565c8"/><stop offset="1" stop-color="#0a3a8a"/>
</radialGradient>
<radialGradient id="gg" cx="0.3" cy="0.3" r="0.8">
<stop offset="0" stop-color="#f0ff60"/><stop offset="0.5" stop-color="#7cd02a"/><stop offset="1" stop-color="#1f7a1a"/>
</radialGradient>
</defs>
<circle cx="77" cy="1673.5" r="23.6" fill="#22ad87"/>
<circle cx="77" cy="1673.5" r="19.5" fill="#2ab596"/>
<path d="M65.8 1667.6 L77.1 1662.9 L88.2 1667.6 Z" fill="#fff"/>
<rect x="67.9" y="1667" width="18.3" height="17" fill="#fff"/>
<g fill="#22ad87"><rect x="70.2" y="1668.9" width="5.6" height="1.9"/><rect x="78.3" y="1668.9" width="5.6" height="1.9"/>
<rect x="70.2" y="1673" width="5.6" height="2.2"/><rect x="78.3" y="1673" width="5.6" height="2.2"/>
<rect x="75.2" y="1678.1" width="3.7" height="6.1"/></g>
<ellipse cx="552" cy="1693" rx="17" ry="3.5" fill="#2f5f95" opacity="0.55"/>
<circle cx="551.8" cy="1672" r="22.6" fill="url(#gl)"/>
<path d="M541.4 1666 C543 1661 545 1659 547.1 1658 C551 1656 554 1655 557.2 1655.8 C560 1657 562 1659 561.7 1661.4 C561 1665 560.5 1667 559.5 1669.3 C558 1671.5 556 1672 555 1673.8 C554 1676 554 1679 552.7 1680.6 C550 1681 548.5 1680 547.1 1678.4 C545 1676.5 543.5 1675.5 542.6 1673.8 C541.5 1671 541 1668 541.4 1666 Z" fill="url(#gg)"/>
<path d="M553.8 1681.7 C558 1680 562 1680 565.1 1680.6 C568 1681 570 1682 570.8 1684 C569 1687 567 1689.5 565.1 1690.8 C562 1692 559.5 1692.3 557.2 1691.9 C555 1689 554 1685 553.8 1681.7 Z" fill="#1e8a2a"/>
<g fill="#8cc84b">
<ellipse cx="1013.9" cy="1668.3" rx="16.1" ry="14"/>
<path d="M1000 1674 L998 1685 L1009 1680 Z"/>
</g>
<ellipse cx="1027.5" cy="1679.2" rx="14.6" ry="12.3" fill="#5b9bd5"/>
<g fill="#8cc84b">
<ellipse cx="1027.5" cy="1679.2" rx="13.7" ry="11.3"/>
<path d="M1032 1688 L1038.5 1693 L1037 1684 Z"/>
</g>
<g fill="#fff"><circle cx="1008.5" cy="1662.2" r="2"/><circle cx="1019.5" cy="1662.2" r="2"/><circle cx="1023.4" cy="1675.9" r="1.8"/><circle cx="1031.6" cy="1675.9" r="1.8"/></g>
<rect x="1067" y="1612" width="116" height="116" fill="#fff"/>
<path d="M1074.60 1620.00h19.30v2.76h-19.30zM1096.65 1620.00h13.78v2.76h-13.78zM1113.19 1620.00h5.51v2.76h-5.51zM1126.98 1620.00h2.76v2.76h-2.76zM1132.49 1620.00h2.76v2.76h-2.76zM1138.01 1620.00h11.03v2.76h-11.03zM1151.79 1620.00h2.76v2.76h-2.76zM1157.30 1620.00h19.30v2.76h-19.30zM1074.60 1622.76h2.76v2.76h-2.76zM1091.14 1622.76h2.76v2.76h-2.76zM1107.68 1622.76h2.76v2.76h-2.76zM1113.19 1622.76h5.51v2.76h-5.51zM1121.46 1622.76h8.27v2.76h-8.27zM1140.76 1622.76h2.76v2.76h-2.76zM1151.79 1622.76h2.76v2.76h-2.76zM1157.30 1622.76h2.76v2.76h-2.76zM1173.84 1622.76h2.76v2.76h-2.76zM1074.60 1625.51h2.76v2.76h-2.76zM1080.11 1625.51h8.27v2.76h-8.27zM1091.14 1625.51h2.76v2.76h-2.76zM1096.65 1625.51h2.76v2.76h-2.76zM1102.17 1625.51h8.27v2.76h-8.27zM1113.19 1625.51h5.51v2.76h-5.51zM1129.74 1625.51h8.27v2.76h-8.27zM1143.52 1625.51h11.03v2.76h-11.03zM1157.30 1625.51h2.76v2.76h-2.76zM1162.82 1625.51h8.27v2.76h-8.27zM1173.84 1625.51h2.76v2.76h-2.76zM1074.60 1628.27h2.76v2.76h-2.76zM1080.11 1628.27h8.27v2.76h-8.27zM1091.14 1628.27h2.76v2.76h-2.76zM1099.41 1628.27h8.27v2.76h-8.27zM1110.44 1628.27h30.32v2.76h-30.32zM1146.28 1628.27h8.27v2.76h-8.27zM1157.30 1628.27h2.76v2.76h-2.76zM1162.82 1628.27h8.27v2.76h-8.27zM1173.84 1628.27h2.76v2.76h-2.76zM1074.60 1631.03h2.76v2.76h-2.76zM1080.11 1631.03h8.27v2.76h-8.27zM1091.14 1631.03h2.76v2.76h-2.76zM1099.41 1631.03h2.76v2.76h-2.76zM1113.19 1631.03h8.27v2.76h-8.27zM1129.74 1631.03h5.51v2.76h-5.51zM1151.79 1631.03h2.76v2.76h-2.76zM1157.30 1631.03h2.76v2.76h-2.76zM1162.82 1631.03h8.27v2.76h-8.27zM1173.84 1631.03h2.76v2.76h-2.76zM1074.60 1633.78h2.76v2.76h-2.76zM1091.14 1633.78h2.76v2.76h-2.76zM1096.65 1633.78h2.76v2.76h-2.76zM1107.68 1633.78h2.76v2.76h-2.76zM1115.95 1633.78h2.76v2.76h-2.76zM1129.74 1633.78h5.51v2.76h-5.51zM1138.01 1633.78h2.76v2.76h-2.76zM1146.28 1633.78h5.51v2.76h-5.51zM1157.30 1633.78h2.76v2.76h-2.76zM1173.84 1633.78h2.76v2.76h-2.76zM1074.60 1636.54h19.30v2.76h-19.30zM1102.17 1636.54h2.76v2.76h-2.76zM1110.44 1636.54h11.03v2.76h-11.03zM1124.22 1636.54h8.27v2.76h-8.27zM1135.25 1636.54h5.51v2.76h-5.51zM1146.28 1636.54h2.76v2.76h-2.76zM1157.30 1636.54h19.30v2.76h-19.30zM1099.41 1639.30h5.51v2.76h-5.51zM1118.71 1639.30h2.76v2.76h-2.76zM1132.49 1639.30h2.76v2.76h-2.76zM1138.01 1639.30h2.76v2.76h-2.76zM1151.79 1639.30h2.76v2.76h-2.76zM1074.60 1642.05h2.76v2.76h-2.76zM1085.63 1642.05h2.76v2.76h-2.76zM1093.90 1642.05h2.76v2.76h-2.76zM1102.17 1642.05h2.76v2.76h-2.76zM1107.68 1642.05h5.51v2.76h-5.51zM1118.71 1642.05h5.51v2.76h-5.51zM1126.98 1642.05h8.27v2.76h-8.27zM1138.01 1642.05h2.76v2.76h-2.76zM1143.52 1642.05h8.27v2.76h-8.27zM1157.30 1642.05h2.76v2.76h-2.76zM1168.33 1642.05h8.27v2.76h-8.27zM1077.36 1644.81h8.27v2.76h-8.27zM1091.14 1644.81h5.51v2.76h-5.51zM1104.92 1644.81h5.51v2.76h-5.51zM1113.19 1644.81h5.51v2.76h-5.51zM1126.98 1644.81h2.76v2.76h-2.76zM1132.49 1644.81h2.76v2.76h-2.76zM1138.01 1644.81h5.51v2.76h-5.51zM1149.03 1644.81h5.51v2.76h-5.51zM1157.30 1644.81h19.30v2.76h-19.30zM1077.36 1647.57h2.76v2.76h-2.76zM1082.87 1647.57h13.78v2.76h-13.78zM1102.17 1647.57h5.51v2.76h-5.51zM1110.44 1647.57h2.76v2.76h-2.76zM1115.95 1647.57h5.51v2.76h-5.51zM1124.22 1647.57h2.76v2.76h-2.76zM1135.25 1647.57h2.76v2.76h-2.76zM1146.28 1647.57h13.78v2.76h-13.78zM1162.82 1647.57h8.27v2.76h-8.27zM1077.36 1650.32h19.30v2.76h-19.30zM1104.92 1650.32h2.76v2.76h-2.76zM1110.44 1650.32h13.78v2.76h-13.78zM1126.98 1650.32h2.76v2.76h-2.76zM1132.49 1650.32h22.05v2.76h-22.05zM1171.09 1650.32h5.51v2.76h-5.51zM1077.36 1653.08h2.76v2.76h-2.76zM1085.63 1653.08h2.76v2.76h-2.76zM1102.17 1653.08h2.76v2.76h-2.76zM1129.74 1653.08h13.78v2.76h-13.78zM1157.30 1653.08h5.51v2.76h-5.51zM1074.60 1655.84h2.76v2.76h-2.76zM1080.11 1655.84h8.27v2.76h-8.27zM1091.14 1655.84h2.76v2.76h-2.76zM1099.41 1655.84h8.27v2.76h-8.27zM1140.76 1655.84h2.76v2.76h-2.76zM1151.79 1655.84h2.76v2.76h-2.76zM1157.30 1655.84h8.27v2.76h-8.27zM1168.33 1655.84h2.76v2.76h-2.76zM1074.60 1658.59h5.51v2.76h-5.51zM1085.63 1658.59h8.27v2.76h-8.27zM1096.65 1658.59h2.76v2.76h-2.76zM1102.17 1658.59h2.76v2.76h-2.76zM1140.76 1658.59h13.78v2.76h-13.78zM1157.30 1658.59h2.76v2.76h-2.76zM1165.57 1658.59h2.76v2.76h-2.76zM1074.60 1661.35h8.27v2.76h-8.27zM1088.38 1661.35h13.78v2.76h-13.78zM1104.92 1661.35h2.76v2.76h-2.76zM1146.28 1661.35h2.76v2.76h-2.76zM1151.79 1661.35h2.76v2.76h-2.76zM1160.06 1661.35h5.51v2.76h-5.51zM1168.33 1661.35h8.27v2.76h-8.27zM1074.60 1664.11h2.76v2.76h-2.76zM1082.87 1664.11h2.76v2.76h-2.76zM1088.38 1664.11h2.76v2.76h-2.76zM1093.90 1664.11h11.03v2.76h-11.03zM1107.68 1664.11h2.76v2.76h-2.76zM1149.03 1664.11h5.51v2.76h-5.51zM1157.30 1664.11h11.03v2.76h-11.03zM1171.09 1664.11h2.76v2.76h-2.76zM1080.11 1666.86h13.78v2.76h-13.78zM1102.17 1666.86h5.51v2.76h-5.51zM1140.76 1666.86h2.76v2.76h-2.76zM1160.06 1666.86h2.76v2.76h-2.76zM1165.57 1666.86h2.76v2.76h-2.76zM1171.09 1666.86h2.76v2.76h-2.76zM1077.36 1669.62h8.27v2.76h-8.27zM1091.14 1669.62h5.51v2.76h-5.51zM1102.17 1669.62h5.51v2.76h-5.51zM1140.76 1669.62h8.27v2.76h-8.27zM1151.79 1669.62h5.51v2.76h-5.51zM1162.82 1669.62h11.03v2.76h-11.03zM1074.60 1672.38h2.76v2.76h-2.76zM1085.63 1672.38h2.76v2.76h-2.76zM1091.14 1672.38h2.76v2.76h-2.76zM1096.65 1672.38h5.51v2.76h-5.51zM1104.92 1672.38h2.76v2.76h-2.76zM1140.76 1672.38h8.27v2.76h-8.27zM1162.82 1672.38h5.51v2.76h-5.51zM1173.84 1672.38h2.76v2.76h-2.76zM1077.36 1675.14h19.30v2.76h-19.30zM1099.41 1675.14h2.76v2.76h-2.76zM1104.92 1675.14h5.51v2.76h-5.51zM1140.76 1675.14h2.76v2.76h-2.76zM1149.03 1675.14h8.27v2.76h-8.27zM1160.06 1675.14h2.76v2.76h-2.76zM1168.33 1675.14h5.51v2.76h-5.51zM1077.36 1677.89h2.76v2.76h-2.76zM1082.87 1677.89h8.27v2.76h-8.27zM1102.17 1677.89h8.27v2.76h-8.27zM1146.28 1677.89h8.27v2.76h-8.27zM1157.30 1677.89h5.51v2.76h-5.51zM1165.57 1677.89h8.27v2.76h-8.27zM1074.60 1680.65h2.76v2.76h-2.76zM1085.63 1680.65h11.03v2.76h-11.03zM1099.41 1680.65h8.27v2.76h-8.27zM1140.76 1680.65h8.27v2.76h-8.27zM1154.55 1680.65h5.51v2.76h-5.51zM1165.57 1680.65h2.76v2.76h-2.76zM1074.60 1683.41h5.51v2.76h-5.51zM1088.38 1683.41h11.03v2.76h-11.03zM1107.68 1683.41h2.76v2.76h-2.76zM1140.76 1683.41h5.51v2.76h-5.51zM1151.79 1683.41h8.27v2.76h-8.27zM1162.82 1683.41h8.27v2.76h-8.27zM1074.60 1686.16h8.27v2.76h-8.27zM1088.38 1686.16h5.51v2.76h-5.51zM1096.65 1686.16h8.27v2.76h-8.27zM1107.68 1686.16h2.76v2.76h-2.76zM1113.19 1686.16h5.51v2.76h-5.51zM1124.22 1686.16h5.51v2.76h-5.51zM1132.49 1686.16h5.51v2.76h-5.51zM1140.76 1686.16h2.76v2.76h-2.76zM1146.28 1686.16h2.76v2.76h-2.76zM1151.79 1686.16h8.27v2.76h-8.27zM1168.33 1686.16h2.76v2.76h-2.76zM1173.84 1686.16h2.76v2.76h-2.76zM1077.36 1688.92h5.51v2.76h-5.51zM1088.38 1688.92h5.51v2.76h-5.51zM1099.41 1688.92h5.51v2.76h-5.51zM1110.44 1688.92h5.51v2.76h-5.51zM1118.71 1688.92h2.76v2.76h-2.76zM1129.74 1688.92h2.76v2.76h-2.76zM1135.25 1688.92h5.51v2.76h-5.51zM1146.28 1688.92h8.27v2.76h-8.27zM1157.30 1688.92h8.27v2.76h-8.27zM1171.09 1688.92h2.76v2.76h-2.76zM1077.36 1691.68h2.76v2.76h-2.76zM1082.87 1691.68h2.76v2.76h-2.76zM1093.90 1691.68h5.51v2.76h-5.51zM1102.17 1691.68h2.76v2.76h-2.76zM1107.68 1691.68h8.27v2.76h-8.27zM1118.71 1691.68h5.51v2.76h-5.51zM1129.74 1691.68h33.08v2.76h-33.08zM1171.09 1691.68h2.76v2.76h-2.76zM1074.60 1694.43h2.76v2.76h-2.76zM1080.11 1694.43h2.76v2.76h-2.76zM1093.90 1694.43h2.76v2.76h-2.76zM1099.41 1694.43h2.76v2.76h-2.76zM1107.68 1694.43h2.76v2.76h-2.76zM1115.95 1694.43h5.51v2.76h-5.51zM1124.22 1694.43h2.76v2.76h-2.76zM1129.74 1694.43h2.76v2.76h-2.76zM1135.25 1694.43h2.76v2.76h-2.76zM1143.52 1694.43h5.51v2.76h-5.51zM1157.30 1694.43h5.51v2.76h-5.51zM1171.09 1694.43h2.76v2.76h-2.76zM1074.60 1697.19h2.76v2.76h-2.76zM1082.87 1697.19h2.76v2.76h-2.76zM1096.65 1697.19h2.76v2.76h-2.76zM1104.92 1697.19h2.76v2.76h-2.76zM1110.44 1697.19h2.76v2.76h-2.76zM1118.71 1697.19h2.76v2.76h-2.76zM1124.22 1697.19h5.51v2.76h-5.51zM1132.49 1697.19h2.76v2.76h-2.76zM1138.01 1697.19h2.76v2.76h-2.76zM1146.28 1697.19h2.76v2.76h-2.76zM1151.79 1697.19h2.76v2.76h-2.76zM1157.30 1697.19h5.51v2.76h-5.51zM1165.57 1697.19h2.76v2.76h-2.76zM1173.84 1697.19h2.76v2.76h-2.76zM1102.17 1699.95h2.76v2.76h-2.76zM1107.68 1699.95h5.51v2.76h-5.51zM1115.95 1699.95h8.27v2.76h-8.27zM1132.49 1699.95h8.27v2.76h-8.27zM1146.28 1699.95h2.76v2.76h-2.76zM1157.30 1699.95h5.51v2.76h-5.51zM1165.57 1699.95h2.76v2.76h-2.76zM1171.09 1699.95h5.51v2.76h-5.51zM1074.60 1702.70h19.30v2.76h-19.30zM1104.92 1702.70h11.03v2.76h-11.03zM1124.22 1702.70h2.76v2.76h-2.76zM1132.49 1702.70h2.76v2.76h-2.76zM1138.01 1702.70h22.05v2.76h-22.05zM1165.57 1702.70h2.76v2.76h-2.76zM1171.09 1702.70h2.76v2.76h-2.76zM1074.60 1705.46h2.76v2.76h-2.76zM1091.14 1705.46h2.76v2.76h-2.76zM1096.65 1705.46h2.76v2.76h-2.76zM1107.68 1705.46h2.76v2.76h-2.76zM1113.19 1705.46h5.51v2.76h-5.51zM1132.49 1705.46h2.76v2.76h-2.76zM1143.52 1705.46h2.76v2.76h-2.76zM1151.79 1705.46h5.51v2.76h-5.51zM1160.06 1705.46h2.76v2.76h-2.76zM1165.57 1705.46h8.27v2.76h-8.27zM1074.60 1708.22h2.76v2.76h-2.76zM1080.11 1708.22h8.27v2.76h-8.27zM1091.14 1708.22h2.76v2.76h-2.76zM1096.65 1708.22h2.76v2.76h-2.76zM1102.17 1708.22h2.76v2.76h-2.76zM1113.19 1708.22h2.76v2.76h-2.76zM1124.22 1708.22h11.03v2.76h-11.03zM1149.03 1708.22h8.27v2.76h-8.27zM1160.06 1708.22h16.54v2.76h-16.54zM1074.60 1710.97h2.76v2.76h-2.76zM1080.11 1710.97h8.27v2.76h-8.27zM1091.14 1710.97h2.76v2.76h-2.76zM1096.65 1710.97h5.51v2.76h-5.51zM1104.92 1710.97h2.76v2.76h-2.76zM1113.19 1710.97h2.76v2.76h-2.76zM1118.71 1710.97h2.76v2.76h-2.76zM1124.22 1710.97h8.27v2.76h-8.27zM1138.01 1710.97h8.27v2.76h-8.27zM1149.03 1710.97h8.27v2.76h-8.27zM1160.06 1710.97h2.76v2.76h-2.76zM1165.57 1710.97h5.51v2.76h-5.51zM1173.84 1710.97h2.76v2.76h-2.76zM1074.60 1713.73h2.76v2.76h-2.76zM1080.11 1713.73h8.27v2.76h-8.27zM1091.14 1713.73h2.76v2.76h-2.76zM1096.65 1713.73h5.51v2.76h-5.51zM1104.92 1713.73h2.76v2.76h-2.76zM1110.44 1713.73h8.27v2.76h-8.27zM1124.22 1713.73h2.76v2.76h-2.76zM1129.74 1713.73h5.51v2.76h-5.51zM1146.28 1713.73h8.27v2.76h-8.27zM1162.82 1713.73h5.51v2.76h-5.51zM1173.84 1713.73h2.76v2.76h-2.76zM1074.60 1716.49h2.76v2.76h-2.76zM1091.14 1716.49h2.76v2.76h-2.76zM1096.65 1716.49h8.27v2.76h-8.27zM1107.68 1716.49h8.27v2.76h-8.27zM1121.46 1716.49h2.76v2.76h-2.76zM1126.98 1716.49h5.51v2.76h-5.51zM1140.76 1716.49h5.51v2.76h-5.51zM1149.03 1716.49h13.78v2.76h-13.78zM1173.84 1716.49h2.76v2.76h-2.76zM1074.60 1719.24h19.30v2.76h-19.30zM1096.65 1719.24h5.51v2.76h-5.51zM1121.46 1719.24h5.51v2.76h-5.51zM1129.74 1719.24h5.51v2.76h-5.51zM1143.52 1719.24h8.27v2.76h-8.27zM1154.55 1719.24h2.76v2.76h-2.76zM1162.82 1719.24h2.76v2.76h-2.76zM1171.09 1719.24h5.51v2.76h-5.51z" fill="#111"/>
<rect x="1110.5" y="1658" width="28" height="25" rx="5" fill="#f4f4f4"/>
<path d="M1114 1668 h20 v5 h-20 z" fill="#555"/>
</svg>
<div class="abs w" id="fcomp" style="left:106px;top:1676px;font-size:24.7px;">成都速班图网络科技有限公司</div>
<div class="abs w mono" id="furl" style="left:581px;top:1679.5px;font-size:23px;text-decoration:underline;text-decoration-thickness:1.6px;transform-origin:0 0;transform:scaleX(0.906);">www.subuntu.com&nbsp;</div>

</body></html>
